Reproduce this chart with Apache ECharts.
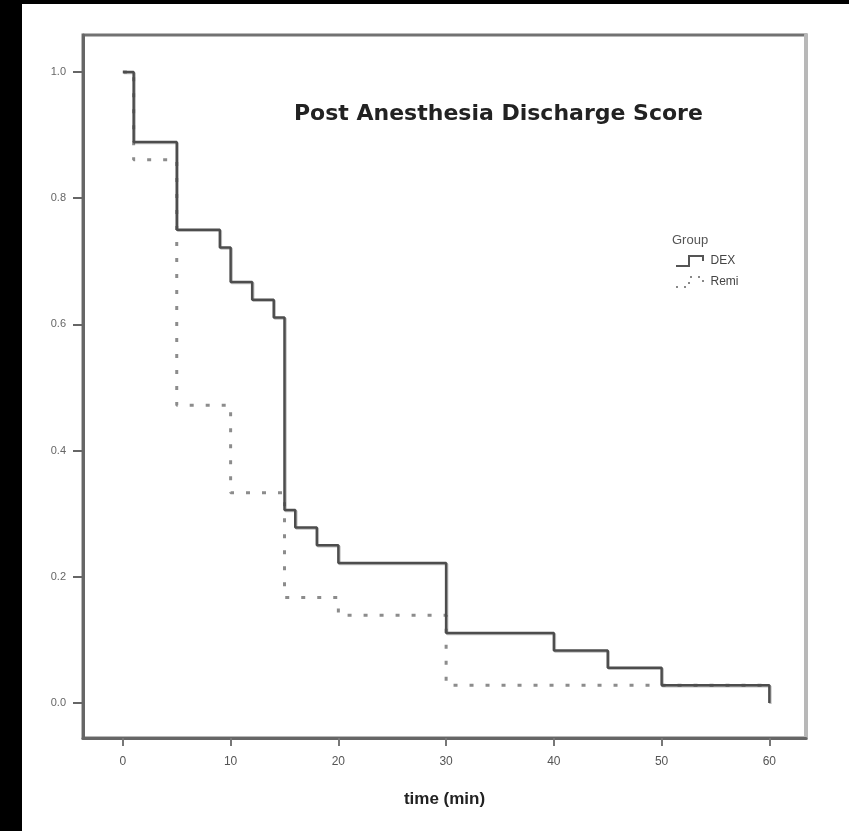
<!DOCTYPE html>
<html>
<head>
<meta charset="utf-8">
<script src="https://cdn.jsdelivr.net/npm/echarts@6/dist/echarts.min.js"></script>
<style>
html, body { margin: 0; padding: 0; background: #fff; }
#chart { width: 849px; height: 831px; }
</style>
</head>
<body>
<div id="chart"></div>
<script>
// survival steps (time in minutes, proportion remaining)
var dexTimes = [0, 1, 5, 9, 10, 12, 14, 15, 16, 18, 20, 30, 40, 45, 50, 60];
var dexValues = [1, 0.889, 0.75, 0.722, 0.667, 0.639, 0.611, 0.306, 0.278, 0.25, 0.222, 0.111, 0.083, 0.056, 0.028, 0];
var remiTimes = [0, 1, 5, 10, 15, 20, 30, 60];
var remiValues = [1, 0.861, 0.472, 0.333, 0.167, 0.139, 0.028, 0.028];
var xTicks = [0, 10, 20, 30, 40, 50, 60];
var yTicks = [0, 0.2, 0.4, 0.6, 0.8, 1.0];

function pairs(xs, ys) {
    var out = [];
    for (var i = 0; i < xs.length; i++) out.push([xs[i], ys[i]]);
    return out;
}

var stepIcon = 'path://M0,10L13,10L13,0L27,0L27,5';

var myChart = echarts.init(document.getElementById('chart'));
var option = {
    backgroundColor: '#fff',
    animation: false,
    title: {
        text: 'Post Anesthesia Discharge Score',
        left: 289,
        top: 98,
        textStyle: { fontFamily: 'DejaVu Sans', fontSize: 22, fontWeight: 'bold', color: '#222' }
    },
    legend: {
        orient: 'vertical',
        left: 670,
        top: 250,
        itemWidth: 32,
        itemHeight: 10,
        itemGap: 9,
        textStyle: { fontFamily: 'Liberation Sans', fontSize: 12, color: '#444' },
        data: [
            { name: 'DEX', icon: stepIcon, itemStyle: { color: 'rgba(0,0,0,0)', borderColor: '#555', borderWidth: 2 } },
            { name: 'Remi', icon: stepIcon, itemStyle: { color: 'rgba(0,0,0,0)', borderColor: '#888', borderWidth: 2, borderType: [2, 6] } }
        ]
    },
    graphic: [
        { type: 'rect', left: 0, top: 0, shape: { width: 22, height: 831 }, style: { fill: '#000' } },
        { type: 'rect', left: 0, top: 0, shape: { width: 849, height: 4 }, style: { fill: '#000' } },
        { type: 'text', left: 672, top: 234, style: { text: 'Group', fontFamily: 'Liberation Sans', fontSize: 13, fill: '#555' } }
    ],
    grid: {
        left: 83,
        right: 43,
        top: 35,
        bottom: 93,
        show: true,
        borderColor: '#727272',
        borderWidth: 3,
        containLabel: false
    },
    xAxis: {
        type: 'value',
        min: -3.7,
        max: 63.4,
        name: 'time (min)',
        nameLocation: 'middle',
        nameGap: 53,
        nameTextStyle: { fontFamily: 'Liberation Sans', fontSize: 17, fontWeight: 'bold', color: '#222' },
        splitLine: { show: false },
        axisLine: { onZero: false, lineStyle: { color: '#666', width: 3 } },
        axisTick: { inside: false, length: 8, customValues: xTicks, lineStyle: { color: '#777', width: 2 } },
        axisLabel: { customValues: xTicks, margin: 18, fontFamily: 'Liberation Sans', fontSize: 12, color: '#555' }
    },
    yAxis: [
        {
            type: 'value',
            min: -0.0555,
            max: 1.0586,
            splitLine: { show: false },
            axisLine: { onZero: false, lineStyle: { color: '#666', width: 3 } },
            axisTick: { inside: false, length: 10, customValues: yTicks, lineStyle: { color: '#666', width: 2 } },
            axisLabel: {
                customValues: yTicks,
                margin: 17,
                fontFamily: 'Liberation Sans',
                fontSize: 11,
                color: '#666',
                formatter: function (v) { return v.toFixed(1); }
            }
        },
        {
            type: 'value',
            position: 'right',
            min: -0.0555,
            max: 1.0586,
            splitLine: { show: false },
            axisLine: { show: true, onZero: false, lineStyle: { color: '#b8b8b8', width: 4 } },
            axisTick: { show: false },
            axisLabel: { show: false }
        }
    ],
    series: [
        {
            name: 'Remi',
            type: 'line',
            step: 'end',
            showSymbol: false,
            symbol: 'none',
            lineStyle: { color: '#8c8c8c', width: 3, type: [4, 12] },
            itemStyle: { color: '#8c8c8c' },
            data: pairs(remiTimes, remiValues),
            z: 2
        },
        {
            name: 'DEX',
            type: 'line',
            step: 'end',
            showSymbol: false,
            symbol: 'none',
            lineStyle: { color: '#4d4d4d', width: 2.5, shadowColor: 'rgba(0,0,0,0.25)', shadowOffsetX: 1, shadowOffsetY: 1 },
            itemStyle: { color: '#4d4d4d' },
            data: pairs(dexTimes, dexValues),
            z: 3
        }
    ]
};
myChart.setOption(option);
</script>
</body>
</html>
